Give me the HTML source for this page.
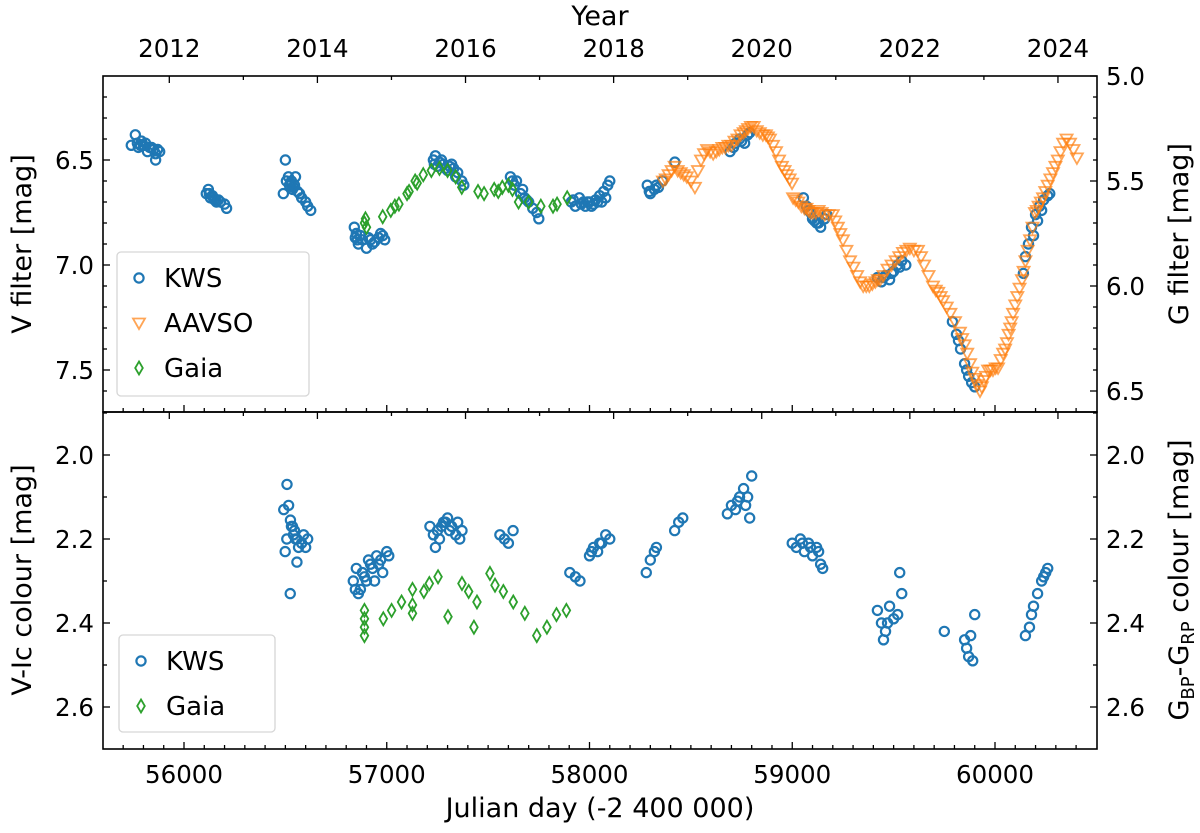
<!DOCTYPE html>
<html><head><meta charset="utf-8"><style>
body{margin:0;background:#fff;}
svg{display:block;font-family:"DejaVu Sans","Liberation Sans",sans-serif;}
</style></head><body>
<svg id="chart" width="1200" height="833" viewBox="0 0 1200 833" xmlns="http://www.w3.org/2000/svg"></svg>
<script>
// ---- data ----
const kwsVDays=[55740,55760,55770,55790,55800,55810,55830,55850,55860,55870,55880,55860,55775,55820,55785,55840,
56110,56120,56130,56140,56150,56160,56170,56180,56200,56210,56125,56145,
56490,56500,56505,56515,56520,56530,56540,56550,56560,56570,56580,56600,56610,56625,56525,56545,56535,
56840,56845,56850,56860,56880,56900,56920,56940,56960,56980,56990,56970,56855,56870,56910,56930,
57230,57240,57250,57260,57280,57300,57310,57330,57350,57370,57380,57340,57235,57270,57290,57320,
57610,57620,57640,57660,57680,57700,57720,57740,57750,57630,57670,57690,
57910,57930,57950,57970,57990,58010,58030,58050,58070,58090,58100,58060,57920,57960,57980,58000,58020,58040,58080,
58285,58300,58320,58340,58360,58421,58295,58330,
58693,58720,58740,58765,58780,58790,58710,58750,
59055,59070,59090,59100,59120,59140,59160,59170,59080,59110,59130,
59420,59440,59460,59480,59500,59520,59540,59560,59450,59490,59530,
59790,59810,59830,59850,59870,59885,59900,59820,59860,
60140,60150,60165,60180,60200,60220,60240,60260,60270,60190,60210,60230];
const kwsVMag=[6.43,6.38,6.42,6.41,6.43,6.42,6.44,6.45,6.47,6.45,6.46,6.5,6.44,6.46,6.43,6.44,
6.66,6.64,6.68,6.67,6.69,6.7,6.69,6.7,6.71,6.73,6.66,6.68,
6.66,6.5,6.6,6.58,6.62,6.6,6.63,6.58,6.65,6.66,6.68,6.7,6.72,6.74,6.61,6.62,6.64,
6.82,6.87,6.85,6.9,6.88,6.92,6.88,6.89,6.87,6.86,6.88,6.85,6.88,6.86,6.87,6.9,
6.5,6.48,6.53,6.51,6.52,6.55,6.53,6.54,6.56,6.6,6.62,6.58,6.52,6.5,6.54,6.52,
6.58,6.6,6.6,6.66,6.68,6.7,6.73,6.75,6.78,6.62,6.64,6.69,
6.7,6.72,6.68,6.7,6.7,6.72,6.69,6.67,6.65,6.62,6.6,6.7,6.69,6.71,6.72,6.7,6.71,6.7,6.68,
6.62,6.66,6.64,6.63,6.6,6.51,6.65,6.62,
6.46,6.42,6.4,6.42,6.38,6.37,6.44,6.41,
6.68,6.72,6.75,6.78,6.8,6.82,6.78,6.76,6.74,6.79,6.8,
7.06,7.08,7.05,7.07,7.03,7.0,6.98,7.0,7.06,7.04,7.01,
7.27,7.33,7.4,7.47,7.53,7.56,7.58,7.36,7.5,
7.04,6.96,6.9,6.82,6.76,6.72,6.69,6.67,6.66,6.86,6.79,6.74];
const aavsoDays=[58362,58376,58390,58405,58420,58435,58450,58465,58480,58500,58520,58535,58550,58565,58580,58595,58610,58625,58640,58655,58670,58685,58700,58715,58730,58745,58760,58771,58782,58796,58810,58825,58840,58855,58870,58880,58890,58905,58920,58935,58949,58962,58975,58987,58999,59004,59017,59030,59045,59060,59070,59080,59091,59102,59116,59130,59145,59160,59180,59200,59212,59225,59237,59250,59267,59285,59302,59320,59335,59350,59365,59380,59395,59410,59422,59433,59450,59470,59490,59510,59528,59546,59563,59580,59600,59620,59635,59650,59672,59694,59708,59720,59732,59744,59762,59780,59803,59827,59838,59850,59863,59877,59888,59900,59913,59926,59935,59945,59955,59966,59978,59990,60003,60015,60028,60040,60050,60059,60067,60075,60082,60089,60100,60110,60121,60133,60141,60150,60161,60173,60185,60197,60206,60215,60226,60237,60248,60260,60273,60286,60298,60310,60323,60336,60353,60370,60387,60404];
const aavsoMag=[6.6,6.59,6.57,6.55,6.53,6.55,6.56,6.57,6.58,6.6,6.63,6.55,6.5,6.47,6.45,6.46,6.47,6.46,6.45,6.44,6.44,6.43,6.43,6.41,6.4,6.38,6.37,6.36,6.35,6.34,6.34,6.36,6.37,6.38,6.38,6.39,6.4,6.43,6.46,6.5,6.53,6.55,6.57,6.59,6.61,6.68,6.69,6.7,6.72,6.73,6.73,6.74,6.75,6.75,6.75,6.74,6.75,6.76,6.76,6.76,6.79,6.82,6.85,6.88,6.93,6.98,7.01,7.05,7.08,7.1,7.1,7.1,7.09,7.08,7.07,7.07,7.05,7.02,7.0,6.98,6.96,6.94,6.93,6.92,6.93,6.93,6.96,7.0,7.05,7.1,7.12,7.13,7.15,7.17,7.2,7.23,7.27,7.32,7.35,7.38,7.42,7.47,7.51,7.54,7.57,7.6,7.58,7.55,7.53,7.5,7.5,7.5,7.49,7.49,7.45,7.42,7.4,7.37,7.33,7.3,7.27,7.23,7.19,7.15,7.11,7.07,7.03,6.98,6.93,6.88,6.82,6.75,6.74,6.72,6.7,6.68,6.65,6.62,6.59,6.56,6.53,6.5,6.46,6.42,6.4,6.42,6.45,6.49];
const gaiaVDays=[56890,56895,56900,56980,57020,57040,57060,57100,57110,57140,57150,57180,57220,57260,57300,57340,57370,57450,57480,57530,57550,57570,57600,57620,57650,57700,57760,57820,57840,57890];
const gaiaVMag=[6.8,6.78,6.82,6.77,6.74,6.72,6.71,6.66,6.65,6.6,6.61,6.57,6.55,6.54,6.55,6.58,6.63,6.65,6.66,6.64,6.65,6.63,6.62,6.64,6.7,6.7,6.72,6.72,6.71,6.68];
const kwsCDays=[56508,56516,56492,56525,56535,56545,56507,56557,56565,56499,56557,56524,56540,56550,56580,56600,56610,56530,56590,
56835,56850,56860,56870,56880,56900,56910,56930,56950,56960,56980,57000,57010,56845,56890,56940,56920,56970,
57213,57230,57250,57260,57280,57300,57320,57340,57360,57371,57240,57290,57270,57310,57350,
57558,57580,57600,57623,
57903,57930,57953,
58000,58020,58040,58060,58080,58100,58010,58050,
58280,58300,58320,58330,
58420,58440,58460,
58680,58700,58720,58740,58760,58780,58800,58790,58770,58730,
59000,59020,59040,59060,59080,59100,59120,59140,59150,59050,59090,59130,
59420,59440,59460,59480,59500,59520,59540,59450,59530,59470,
59750,
59850,59860,59870,59880,59890,59900,
60150,60170,60190,60210,60230,60250,60260,60180,60240];
const kwsCVal=[2.07,2.12,2.13,2.155,2.17,2.18,2.2,2.2,2.22,2.23,2.255,2.33,2.19,2.2,2.21,2.22,2.2,2.17,2.19,
2.3,2.27,2.33,2.32,2.28,2.3,2.25,2.27,2.24,2.26,2.28,2.23,2.24,2.32,2.29,2.3,2.26,2.25,
2.17,2.19,2.18,2.2,2.16,2.15,2.17,2.19,2.2,2.18,2.22,2.16,2.17,2.18,2.16,
2.19,2.2,2.21,2.18,
2.28,2.29,2.3,
2.24,2.22,2.23,2.21,2.19,2.2,2.23,2.21,
2.28,2.25,2.23,2.22,
2.18,2.16,2.15,
2.14,2.12,2.13,2.1,2.08,2.1,2.05,2.15,2.12,2.11,
2.21,2.22,2.2,2.23,2.21,2.24,2.22,2.26,2.27,2.21,2.22,2.23,
2.37,2.4,2.42,2.36,2.39,2.38,2.33,2.44,2.28,2.4,
2.42,
2.44,2.46,2.48,2.43,2.49,2.38,
2.43,2.41,2.36,2.33,2.3,2.28,2.27,2.38,2.29];
const gaiaCDays=[56890,56890,56890,56890,56983,57024,57073,57127,57127,57127,57183,57210,57253,57302,57371,57404,57430,57445,57509,57534,57575,57624,57681,57740,57790,57837,57886];
const gaiaCVal=[2.37,2.39,2.41,2.43,2.39,2.37,2.35,2.32,2.357,2.377,2.325,2.306,2.29,2.385,2.306,2.325,2.41,2.35,2.282,2.31,2.325,2.35,2.377,2.43,2.41,2.38,2.37];
const jdTicks=[56000,57000,58000,59000,60000];
const yearTicks=[2012,2014,2016,2018,2020,2022,2024];
const vTicks=[6.5,7.0,7.5];
const gTicks=[5.0,5.5,6.0,6.5];
const cTicks=[2.0,2.2,2.4,2.6];

// ---- geometry ----
const L=103,R=1097,T1=76,B1=412,T2=412,B2=749;
const xJD=d=>184+(d-56000)*0.20275;
const xYear=y=>xJD(55927.5+(y-2012)*365.25);
const yV=v=>160+(v-6.5)*210;
const yG=g=>yV(g+1.1);
const yC=c=>455+(c-2.0)*420;
const NS="http://www.w3.org/2000/svg";
const svg=document.getElementById('chart');
function mk(tag,attrs,parent){const e=document.createElementNS(NS,tag);for(const k in attrs)e.setAttribute(k,attrs[k]);(parent||svg).appendChild(e);return e;}
function txt(s,x,y,size,anchor,parent,rot){const t=mk('text',{x:x,y:y,'font-size':size,'text-anchor':anchor||'middle',fill:'#000'},parent);if(rot)t.setAttribute('transform','rotate('+rot+' '+x+' '+y+')');t.textContent=s;return t;}

const gTop=mk('g',{});


const gBot=mk('g',{});



function circle(x,y,p){const c=mk('circle',{cx:x,cy:y,r:4.6,fill:'none',stroke:'#1f77b4','stroke-width':2.2},p);return c;}
function tri(x,y,p,name){const s=6;const e=mk('polygon',{points:(x-s)+','+(y-s*0.75)+' '+(x+s)+','+(y-s*0.75)+' '+x+','+(y+s),fill:'none',stroke:'#ff7f0e','stroke-width':1.8,'stroke-opacity':0.7},p);return e;}
function dia(x,y,p,name){const e=mk('polygon',{points:x+','+(y-6.5)+' '+(x+3.8)+','+y+' '+x+','+(y+6.5)+' '+(x-3.8)+','+y,fill:'none',stroke:'#2ca02c','stroke-width':1.8},p);return e;}

const defs=mk('defs',{});
const c1=mk('clipPath',{id:'c1'},defs);mk('rect',{x:L,y:T1,width:R-L,height:B1-T1},c1);
const c2=mk('clipPath',{id:'c2'},defs);mk('rect',{x:L,y:T2,width:R-L,height:B2-T2},c2);
const dTop=mk('g',{'clip-path':'url(#c1)'},gTop);
const dBot=mk('g',{'clip-path':'url(#c2)'},gBot);
kwsVDays.forEach((d,i)=>circle(xJD(d),yV(kwsVMag[i]),dTop));
gaiaVDays.forEach((d,i)=>dia(xJD(d),yV(gaiaVMag[i]),dTop));
aavsoDays.forEach((d,i)=>tri(xJD(d),yV(aavsoMag[i]),dTop));
kwsCDays.forEach((d,i)=>circle(xJD(d),yC(kwsCVal[i]),dBot));
gaiaCDays.forEach((d,i)=>dia(xJD(d),yC(gaiaCVal[i]),dBot));

const f1=mk('rect',{x:L,y:T1,width:R-L,height:B1-T1,fill:'none',stroke:'#000','stroke-width':1.6},gTop);

const f2=mk('rect',{x:L,y:T2,width:R-L,height:B2-T2,fill:'none',stroke:'#000','stroke-width':1.6},gBot);


function line(x1,y1,x2,y2,p){mk('line',{x1:x1,y1:y1,x2:x2,y2:y2,stroke:'#000','stroke-width':1.3},p);}
for(let d=55600;d<=60400;d+=100){const x=xJD(d);if(x<L||x>R)continue;const len=(d%1000===0)?7:4;
 line(x,B1,x,B1-len,gTop);line(x,B2,x,B2-len,gBot);}
for(let y=2011;y<=2025;y++){const x=xYear(y);if(x<L||x>R)continue;const len=(y%2===0)?7:4;
 line(x,T1,x,T1+len,gTop);line(x,T2,x,T2+len,gBot);}
for(let v=6.1;v<=7.71;v+=0.1){const y=yV(v);if(y<T1||y>B1)continue;const maj=Math.abs(v*2-Math.round(v*2))<1e-6;line(L,y,L+(maj?7:4),y,gTop);}
for(let g=5.0;g<=6.61;g+=0.1){const y=yG(g);if(y<T1-0.5||y>B1)continue;const maj=Math.abs(g*2-Math.round(g*2))<1e-6;line(R,y,R-(maj?7:4),y,gTop);}
for(let c=1.9;c<=2.71;c+=0.1){const y=yC(c);if(y<T2||y>B2)continue;const maj=Math.abs(c*5-Math.round(c*5))<1e-6;line(L,y,L+(maj?7:4),y,gBot);line(R,y,R-(maj?7:4),y,gBot);}

const FS=24.5;
jdTicks.forEach(d=>{const t=txt(String(d),xJD(d),783,FS,'middle',gBot);});
yearTicks.forEach(y=>{const t=txt(String(y),xYear(y),57,FS,'middle',gTop);});
vTicks.forEach(v=>{const t=txt(v.toFixed(1),L-9,yV(v)+9,FS,'end',gTop);});
gTicks.forEach(g=>{const t=txt(g.toFixed(1),R+9,yG(g)+9,FS,'start',gTop);});
cTicks.forEach(c=>{const t=txt(c.toFixed(1),L-9,yC(c)+9,FS,'end',gBot);
 const t2=txt(c.toFixed(1),R+9,yC(c)+9,FS,'start',gBot);});

const TS=27;
let a;
a=txt('Year',600,25,TS,'middle');
a=txt('Julian day (-2 400 000)',600,817,TS,'middle');
a=txt('V filter [mag]',31,244,TS,'middle',null,-90);
a=txt('V-Ic colour [mag]',31,580,TS,'middle',null,-90);
a=txt('G filter [mag]',1188,234,TS,'middle',null,-90);
a=mk('text',{x:1188,y:580,'font-size':TS,'text-anchor':'middle',transform:'rotate(-90 1188 580)'});

a.innerHTML='G<tspan font-size="18" dy="6">BP</tspan><tspan dy="-6">-G</tspan><tspan font-size="18" dy="6">RP</tspan><tspan dy="-6"> colour [mag]</tspan>';

function legend(x,y,w,h,items,name){const g=mk('g',{});
 mk('rect',{x:x,y:y,width:w,height:h,rx:4,fill:'#fff','fill-opacity':0.8,stroke:'#d6d6d6','stroke-width':1.3},g);
 items.forEach((it,i)=>{const cy=y+26+i*45;const e=mk('g',{},g);
  if(it[1]==='c')circle(x+22,cy,e);else if(it[1]==='t')tri(x+22,cy,e,'legend-marker');else dia(x+22,cy,e,'legend-marker');
  txt(it[0],x+47,cy+9,26,'start',e);});}
legend(117,252,192,144,[['KWS','c'],['AAVSO','t'],['Gaia','d']],'top-legend');
legend(119,635,156,97,[['KWS','c'],['Gaia','d']],'bottom-legend');
</script>
</body></html>
